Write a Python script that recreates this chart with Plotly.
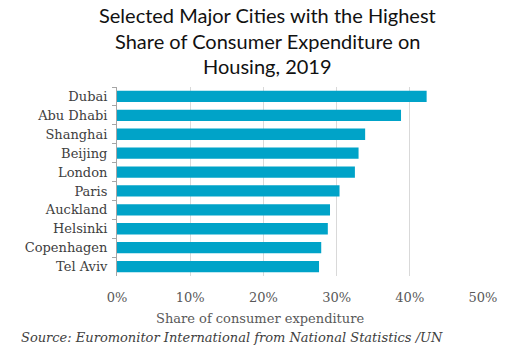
import plotly.graph_objects as go

cities = ["Dubai", "Abu Dhabi", "Shanghai", "Beijing", "London", "Paris",
          "Auckland", "Helsinki", "Copenhagen", "Tel Aviv"]
shares = [0.423, 0.388, 0.339, 0.330, 0.325, 0.304, 0.291, 0.288, 0.279, 0.276]
x_ticks = [0, 0.1, 0.2, 0.3, 0.4, 0.5]

fig = go.Figure(go.Bar(
    x=shares, y=cities, orientation="h",
    marker=dict(color="#00A3C8", line=dict(width=0)),
    width=0.6, hoverinfo="skip",
))

W, H = 512, 360
L, R, T, B = 117, 29, 87, 84
pw, ph = W - L - R, H - T - B

def px_x(x):
    return (x - L) / pw

def px_y(y):
    return (H - B - y) / ph

fig.update_layout(
    width=W, height=H,
    margin=dict(l=L, r=R, t=T, b=B, autoexpand=False),
    paper_bgcolor="white", plot_bgcolor="white",
    showlegend=False,
)

fig.update_xaxes(
    range=[0, 0.5], tickvals=x_ticks, tickformat=".0%",
    showgrid=True, gridcolor="#D9D9D9", gridwidth=1,
    zeroline=False, showline=False, ticks="", automargin=False,
    tickfont=dict(family="DejaVu Serif", size=13, color="#595959"),
    ticklabelstandoff=12,
)

fig.update_yaxes(
    autorange="reversed", categoryorder="array", categoryarray=cities,
    showline=True, linecolor="#A6A6A6", linewidth=1,
    ticks="outside", tickson="boundaries", ticklen=4, tickcolor="#A6A6A6",
    showgrid=False, automargin=False,
    tickfont=dict(family="DejaVu Serif", size=13, color="#404040"),
    ticklabelstandoff=6,
)

title_lines = ["Selected Major Cities with the Highest",
               "Share of Consumer Expenditure on",
               "Housing, 2019"]
for i, line in enumerate(title_lines):
    fig.add_annotation(
        text=line, xref="paper", yref="paper",
        x=px_x(267), y=px_y(15 + 25.5 * i),
        xanchor="center", yanchor="middle", showarrow=False,
        font=dict(family="Lato", size=20, color="#111111"),
    )

fig.add_annotation(
    text="Share of consumer expenditure", xref="paper", yref="paper",
    x=px_x(260), y=px_y(318), xanchor="center", yanchor="middle", showarrow=False,
    font=dict(family="DejaVu Serif", size=13, color="#595959"),
)

fig.add_annotation(
    text="<i>Source: Euromonitor International from National Statistics /UN</i>",
    xref="paper", yref="paper", x=px_x(19), y=px_y(337),
    xanchor="left", yanchor="middle", showarrow=False,
    font=dict(family="DejaVu Serif", size=13, color="#404040"),
)

fig.write_html("out.html", config={"displayModeBar": False},
               post_script="document.body.style.margin='0';")
